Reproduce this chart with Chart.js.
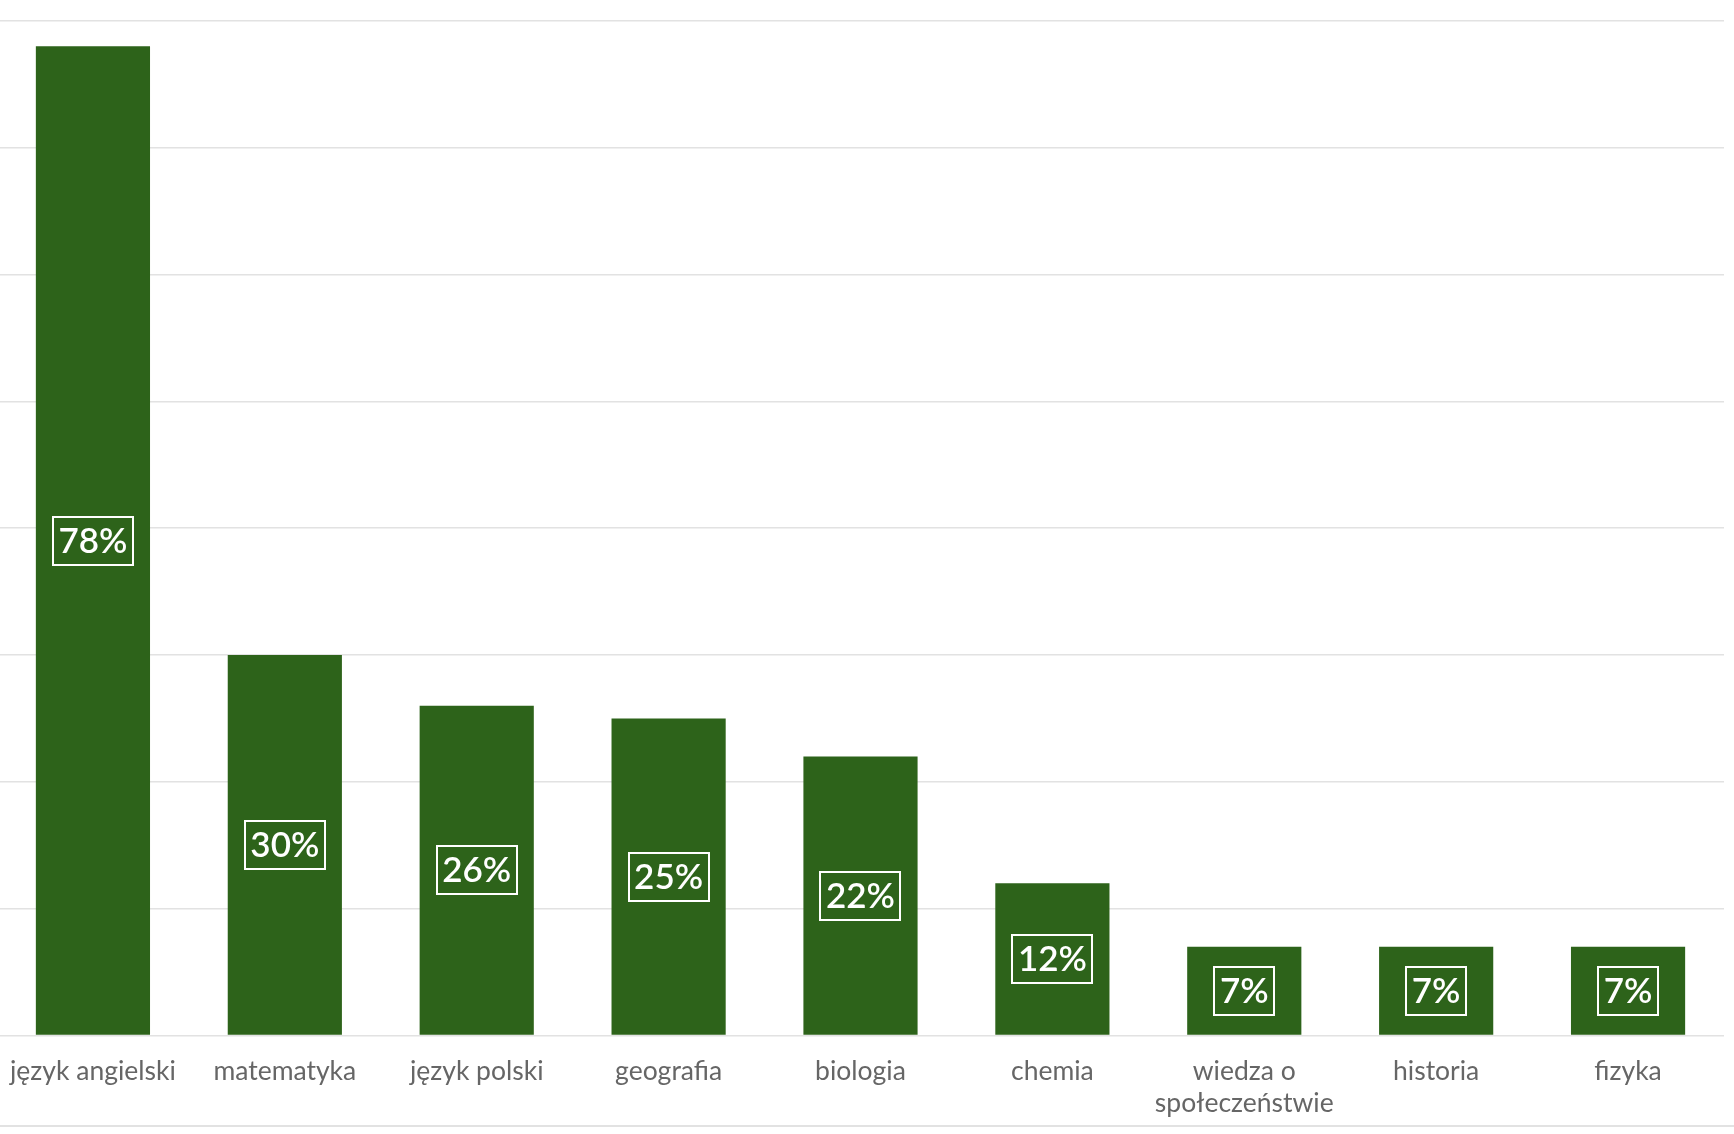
<!DOCTYPE html>
<html lang="pl">

<head>
    <meta charset="UTF-8">
    <title>Przedmioty</title>
    <script src="https://cdn.jsdelivr.net/npm/chart.js"></script>
    <style>
        html, body {
            margin: 0;
            padding: 0;
            background: #ffffff;
            overflow: hidden;
        }

        .chart-container {
            position: relative;
            width: 1734px;
            height: 1139px;
            margin-left: -10px;
        }

        .bottom-rule {
            position: absolute;
            left: 0;
            top: 1125px;
            width: 1734px;
            height: 2px;
            background: #e2e2e2;
        }
    </style>
</head>

<body>

    <div class="chart-container">
        <canvas id="subjectsChart"></canvas>
    </div>
    <div class="bottom-rule"></div>

    <script>
        const categories = ['język angielski', 'matematyka', 'język polski', 'geografia', 'biologia', 'chemia', ['wiedza o', 'społeczeństwie'], 'historia', 'fizyka'];
        const percentages = [78, 30, 26, 25, 22, 12, 7, 7, 7];
        const yTicks = [0, 10, 20, 30, 40, 50, 60, 70, 80];

        const barColor = '#2d631a';

        // boxed white percentage in the middle of each bar
        const boxedLabels = {
            id: 'boxedLabels',
            afterDatasetsDraw(chart) {
                const ctx = chart.ctx;
                const meta = chart.getDatasetMeta(0);
                ctx.save();
                ctx.font = '600 35px Lato';
                ctx.textAlign = 'center';
                ctx.textBaseline = 'middle';
                ctx.fillStyle = '#ffffff';
                ctx.strokeStyle = '#ffffff';
                ctx.lineWidth = 2;
                meta.data.forEach((bar, i) => {
                    const text = percentages[i] + '%';
                    const cy = (bar.y + bar.base) / 2;
                    const w = Math.round(ctx.measureText(text).width + 11);
                    const h = 48;
                    ctx.strokeRect(Math.round(bar.x - w / 2), Math.round(cy - h / 2), w, h);
                    ctx.fillText(text, bar.x, cy + 1);
                });
                ctx.restore();
            }
        };

        const ctx = document.getElementById('subjectsChart').getContext('2d');
        new Chart(ctx, {
            type: 'bar',
            data: {
                labels: categories,
                datasets: [{
                    data: percentages,
                    backgroundColor: barColor,
                    borderWidth: 0,
                    barPercentage: 0.595,
                    categoryPercentage: 1
                }]
            },
            options: {
                responsive: true,
                maintainAspectRatio: false,
                animation: false,
                layout: {
                    padding: { top: 21, right: 0, left: 0, bottom: 0 }
                },
                plugins: {
                    legend: { display: false },
                    tooltip: { enabled: false }
                },
                scales: {
                    x: {
                        grid: { display: false, drawTicks: false },
                        border: { display: false },
                        ticks: {
                            color: '#666666',
                            padding: 20,
                            maxRotation: 0,
                            autoSkip: false,
                            font: { family: 'Lato', size: 26.5, lineHeight: 1.2 }
                        }
                    },
                    y: {
                        min: yTicks[0],
                        max: yTicks[yTicks.length - 1],
                        afterBuildTicks: (scale) => {
                            scale.ticks = yTicks.map(v => ({ value: v }));
                        },
                        border: { display: false },
                        grid: {
                            color: '#e2e2e2',
                            lineWidth: 1.5,
                            drawTicks: false
                        },
                        ticks: { display: false }
                    }
                }
            },
            plugins: [boxedLabels]
        });
    </script>
</body>

</html>
